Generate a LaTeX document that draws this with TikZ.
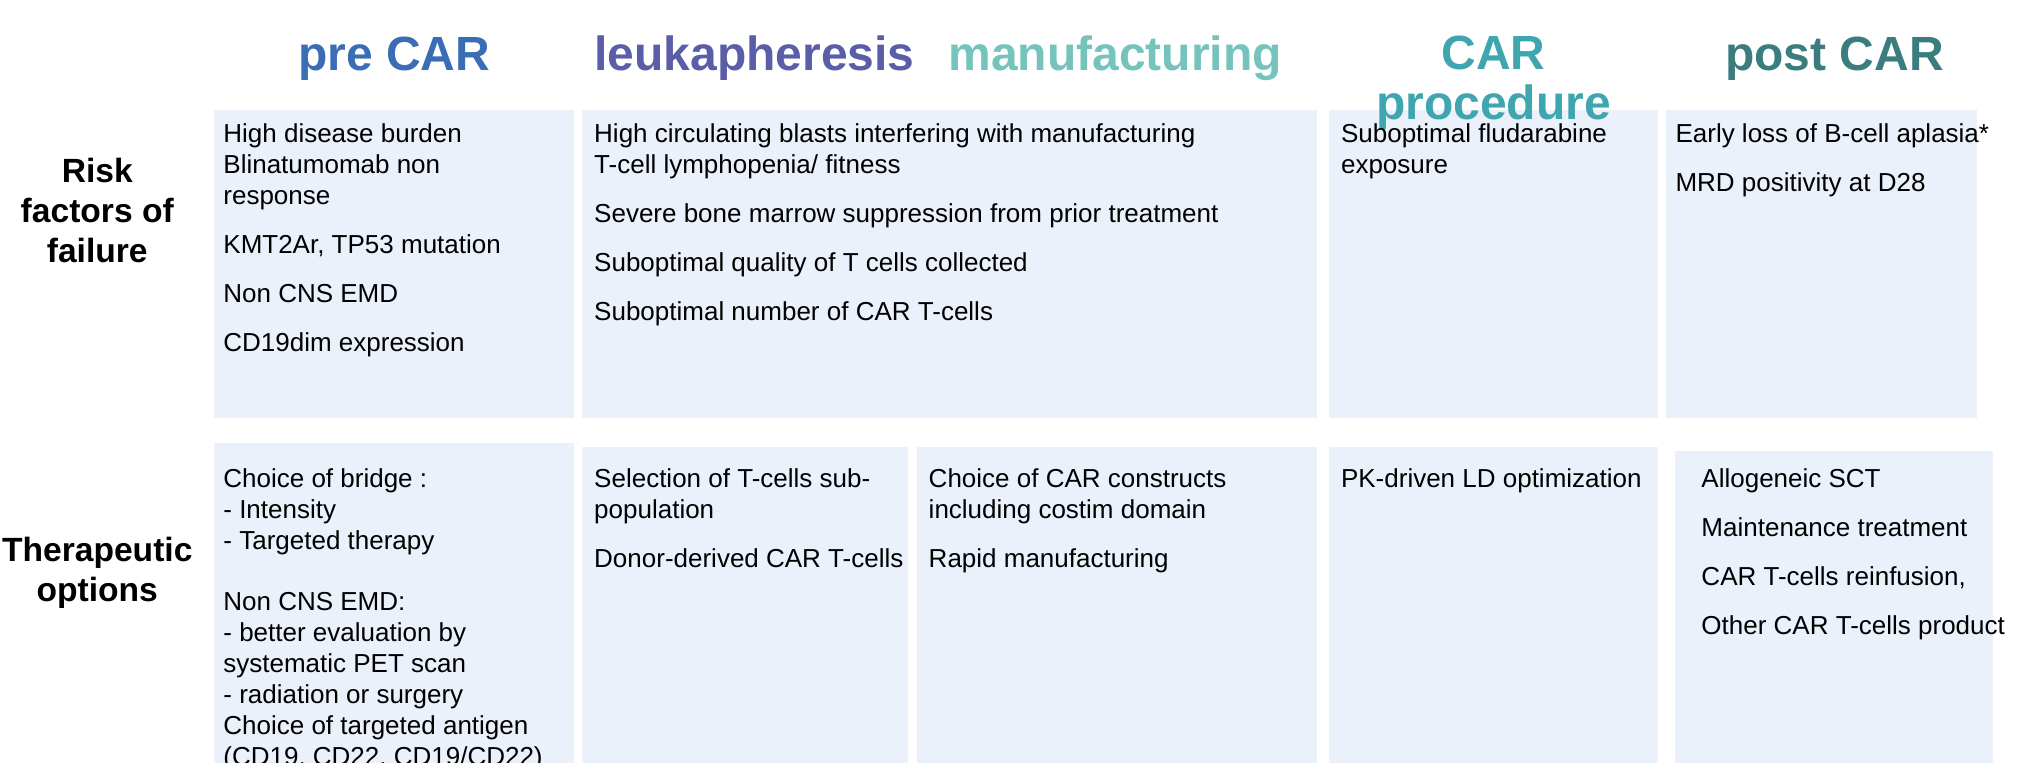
\documentclass[tikz,border=0pt]{standalone}
\usepackage{fontspec}
\setmainfont{Liberation Sans}
\definecolor{boxc}{HTML}{EAF1FB}
\definecolor{cpre}{HTML}{3A6DB5}
\definecolor{cleuk}{HTML}{5A5EA8}
\definecolor{cman}{HTML}{74C3BC}
\definecolor{cproc}{HTML}{3FA5AE}
\definecolor{cpost}{HTML}{3B7C7E}
\begin{document}
\begin{tikzpicture}[x=0.6483pt,y=-0.6483pt,
  bx/.style={fill=boxc,draw=none},
  txt/.style={anchor=north west,align=left,font=\fontsize{13}{15.5}\selectfont,inner sep=0pt},
  hd/.style={font=\fontsize{24}{25}\selectfont\bfseries,align=center},
  lab/.style={font=\fontsize{16.8}{20}\selectfont\bfseries,align=center}]
\useasboundingbox (0,0) rectangle (1568,588);
\fill[bx] (165,85) rectangle (443,322);
\fill[bx] (449,85) rectangle (1016,322);
\fill[bx] (1025,85) rectangle (1279,322);
\fill[bx] (1285,85) rectangle (1525,322);
\fill[bx] (165,342) rectangle (443,750);
\fill[bx] (449,345) rectangle (700,750);
\fill[bx] (707,345) rectangle (1016,750);
\fill[bx] (1025,345) rectangle (1279,750);
\fill[bx] (1292,348) rectangle (1537,750);
\node[hd,text=cpre] (h1) at (304,45) {pre CAR};
\node[hd,text=cleuk] (h2) at (582,45) {leukapheresis};
\node[hd,text=cman] (h3) at (860,45) {manufacturing};
\node[hd,text=cproc] (h4) at (1152,64) {CAR\\procedure};
\node[hd,text=cpost] (h5) at (1415,45) {post CAR};
\node[lab] (l1) at (75,162) {Risk\\factors of\\failure};
\node[lab] (l2) at (75,442) {Therapeutic\\options};
\node[txt] (t1) at (172,95) {High disease burden\\Blinatumomab non\\response\\[9pt]KMT2Ar, TP53 mutation\\[9pt]Non CNS EMD\\[9pt]CD19dim expression};
\node[txt] (t2) at (458,95) {High circulating blasts interfering with manufacturing\\T-cell lymphopenia/ fitness\\[9pt]Severe bone marrow suppression from prior treatment\\[9pt]Suboptimal quality of T cells collected\\[9pt]Suboptimal number of CAR T-cells};
\node[txt] (t3) at (1034,95) {Suboptimal fludarabine\\exposure};
\node[txt] (t4) at (1292,95) {Early loss of B-cell aplasia*\\[9pt]MRD positivity at D28};
\node[txt] (t5) at (172,361) {Choice of bridge :\\- Intensity\\- Targeted therapy\\[15pt]Non CNS EMD:\\- better evaluation by\\systematic PET scan\\- radiation or surgery\\Choice of targeted antigen\\(CD19, CD22, CD19/CD22)};
\node[txt] (t6) at (458,361) {Selection of T-cells sub-\\population\\[9pt]Donor-derived CAR T-cells};
\node[txt] (t7) at (716,361) {Choice of CAR constructs\\including costim domain\\[9pt]Rapid manufacturing};
\node[txt] (t8) at (1034,361) {PK-driven LD optimization};
\node[txt] (t9) at (1312,361) {Allogeneic SCT\\[9pt]Maintenance treatment\\[9pt]CAR T-cells reinfusion,\\[9pt]Other CAR T-cells product};
\end{tikzpicture}
\end{document}
